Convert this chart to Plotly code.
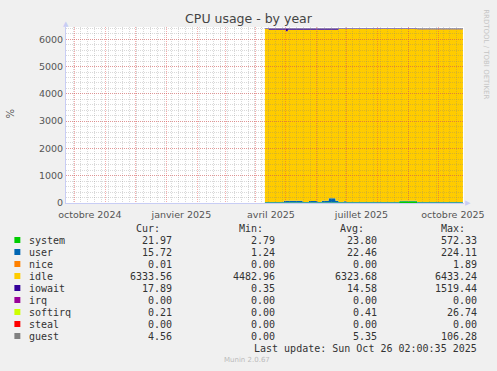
import plotly.graph_objects as go

# ---------------- data ----------------
dates = ["2025-04-10", "2025-04-14", "2025-04-29", "2025-05-01", "2025-05-03",
         "2025-05-18", "2025-05-24", "2025-06-02", "2025-06-06", "2025-06-13",
         "2025-06-20", "2025-06-23", "2025-06-28", "2025-07-01", "2025-08-23",
         "2025-09-10", "2025-10-26"]
system = [20, 20, 22, 22, 22, 22, 22, 22, 22, 22, 22, 22, 22, 22, 65, 22, 22]
user = [15, 15, 60, 60, 60, 15, 55, 15, 60, 150, 60, 15, 45, 15, 15, 15, 15]
nice = [0.01] * 17
idle = [6342, 6315, 6268, 6213, 6268, 6313, 6273, 6313, 6268, 6178,
        6268, 6340, 6310, 6340, 6297, 6330, 6330]
iowait = [18, 45, 45, 100, 45, 45, 45, 45, 45, 45, 45, 18, 18, 18, 18, 18, 18]
irq = [0] * 17
softirq = [0.4] * 17
steal = [0] * 17
guest = [5, 5, 5, 5, 5, 5, 5, 5, 5, 5, 5, 5, 5, 5, 5, 15, 15]

series_names = ["system", "user", "nice", "idle", "iowait", "irq", "softirq", "steal", "guest"]
series_colors = ["#00CC00", "#0066B3", "#FF8000", "#FFCC00", "#330099",
                 "#990099", "#CCFF00", "#FF0000", "#808080"]
series_values = [system, user, nice, idle, iowait, irq, softirq, steal, guest]

cur_vals = ["21.97", "15.72", "0.01", "6333.56", "17.89", "0.00", "0.21", "0.00", "4.56"]
min_vals = ["2.79", "1.24", "0.00", "4482.96", "0.35", "0.00", "0.00", "0.00", "0.00"]
avg_vals = ["23.80", "22.46", "0.00", "6323.68", "14.58", "0.00", "0.41", "0.00", "5.35"]
max_vals = ["572.33", "224.11", "1.89", "6433.24", "1519.44", "0.00", "26.74", "0.00", "106.28"]

month_grid = ["2024-10-01", "2024-11-01", "2024-12-01", "2025-01-01", "2025-02-01",
              "2025-03-01", "2025-04-01", "2025-05-01", "2025-06-01", "2025-07-01",
              "2025-08-01", "2025-09-01", "2025-10-01"]
label_pos = ["2024-10-16", "2025-01-16", "2025-04-16", "2025-07-16", "2025-10-16"]
label_text = ["octobre 2024", "janvier 2025", "avril 2025", "juillet 2025", "octobre 2025"]
y_ticks = [0, 1000, 2000, 3000, 4000, 5000, 6000]

# ---------------- figure ----------------
W, H = 497, 371
L, R, T, B = 66, 30, 27, 168
PW, PH = W - L - R, H - T - B
X_RANGE = ["2024-09-22 02:00", "2025-10-27 02:00"]
Y_RANGE = [0, 6450]


def px(x):
    return (x - L) / PW


def py(y):
    return (T + PH - y) / PH


fig = go.Figure()
for name, col, vals in zip(series_names, series_colors, series_values):
    fig.add_trace(go.Scatter(
        x=dates, y=vals, name=name, stackgroup="one", mode="lines",
        line=dict(width=0, shape="hv", color=col), fillcolor=col,
        showlegend=False, hoverinfo="skip"))
# empty trace on a second subplot stacked on the first: its grid is drawn over the areas
fig.add_trace(go.Scatter(x=[dates[0]], y=[None], xaxis="x2", yaxis="y2",
                         mode="lines", showlegend=False, hoverinfo="skip"))

mono = "DejaVu Sans Mono"
txtcol = "#333"
ann = []
for xr, txt in [(163, "Cur:"), (267, "Min:"), (368, "Avg:"), (470, "Max:")]:
    ann.append(dict(x=px(xr), y=py(228), xref="paper", yref="paper", text=txt,
                    showarrow=False, xanchor="right", yanchor="middle",
                    font=dict(family=mono, size=10, color=txtcol)))
# white plot background (subplots themselves are transparent)
shapes = [dict(type="rect", xref="paper", yref="paper", x0=0, x1=1, y0=0, y1=1,
               fillcolor="#FFFFFF", line=dict(width=0), layer="below")]
for i, name in enumerate(series_names):
    yy = 240 + 12 * i
    shapes.append(dict(type="rect", xref="paper", yref="paper",
                       x0=px(14), x1=px(20), y0=py(yy + 3), y1=py(yy - 3),
                       fillcolor=series_colors[i], line=dict(width=0)))
    ann.append(dict(x=px(27), y=py(yy), xref="paper", yref="paper", text=name,
                    showarrow=False, xanchor="left", yanchor="middle",
                    font=dict(family=mono, size=10, color=txtcol)))
    for xr, arr in [(175, cur_vals), (279, min_vals), (381, avg_vals), (482, max_vals)]:
        ann.append(dict(x=px(xr), y=py(yy), xref="paper", yref="paper", text=arr[i],
                        showarrow=False, xanchor="right", yanchor="middle",
                        font=dict(family=mono, size=10, color=txtcol)))
ann.append(dict(x=px(482), y=py(348), xref="paper", yref="paper",
                text="Last update: Sun Oct 26 02:00:35 2025",
                showarrow=False, xanchor="right", yanchor="middle",
                font=dict(family=mono, size=10, color=txtcol)))
ann.append(dict(x=px(248), y=py(360), xref="paper", yref="paper", text="Munin 2.0.67",
                showarrow=False, xanchor="center", yanchor="middle",
                font=dict(family="DejaVu Sans", size=7, color="#bbb")))
ann.append(dict(x=px(10), y=py(113), xref="paper", yref="paper", text="%",
                showarrow=False, textangle=-90, xanchor="center", yanchor="middle",
                font=dict(family="DejaVu Sans", size=10, color="#555")))
ann.append(dict(x=px(489), y=py(54), xref="paper", yref="paper",
                text="RRDTOOL / TOBI OETIKER",
                showarrow=False, textangle=90, xanchor="center", yanchor="middle",
                font=dict(family="DejaVu Sans", size=7, color="#c4c4c4")))
ann.append(dict(x=px(66), y=py(24), xref="paper", yref="paper", text="▲",
                showarrow=False, xanchor="center", yanchor="middle",
                font=dict(size=7, color="#c8cdf5")))
ann.append(dict(x=px(471), y=py(203), xref="paper", yref="paper", text="▶",
                showarrow=False, xanchor="center", yanchor="middle",
                font=dict(size=7, color="#c8cdf5")))

major_col = "rgba(235,70,70,0.45)"
minor_col = "rgba(130,130,130,0.3)"
dash = "1px,1px"

fig.update_layout(
    width=W, height=H,
    margin=dict(l=L, r=R, t=T, b=B, pad=0),
    paper_bgcolor="#F0F0F0", plot_bgcolor="rgba(0,0,0,0)",
    title=dict(text="CPU usage - by year", x=0.5, xref="container",
               y=1 - 19 / H, yref="container", xanchor="center", yanchor="middle",
               font=dict(family="DejaVu Sans", size=12.5, color="#444")),
    annotations=ann, shapes=shapes,
    font=dict(family="DejaVu Sans", color="#555"),
    xaxis=dict(
        type="date", range=X_RANGE, domain=[0, 1], anchor="y",
        tickvals=label_pos, ticktext=label_text, ticks="",
        ticklabelstandoff=3,
        tickfont=dict(family="DejaVu Sans", size=9.5, color="#555"),
        showgrid=False, showline=True, linecolor="#c8cdf5", linewidth=1,
        zeroline=False, layer="above traces",
    ),
    yaxis=dict(
        range=Y_RANGE, domain=[0, 1], anchor="x", tickvals=y_ticks, ticks="",
        tickfont=dict(family="DejaVu Sans", size=9.5, color="#555"),
        showgrid=False, showline=True, linecolor="#c8cdf5", linewidth=1,
        zeroline=False, layer="above traces",
    ),
    xaxis2=dict(
        type="date", range=X_RANGE, domain=[0, 1], anchor="y2",
        tickvals=month_grid, showticklabels=False, ticks="",
        showgrid=True, gridcolor=major_col, griddash=dash, gridwidth=1,
        minor=dict(dtick=7 * 86400000, tick0="2024-09-23", showgrid=True,
                   gridcolor=minor_col, griddash=dash, gridwidth=1),
        zeroline=False, showline=False,
    ),
    yaxis2=dict(
        range=Y_RANGE, domain=[0, 1], anchor="x2",
        tickvals=y_ticks, showticklabels=False, ticks="",
        showgrid=True, gridcolor=major_col, griddash=dash, gridwidth=1,
        minor=dict(dtick=200, showgrid=True,
                   gridcolor=minor_col, griddash=dash, gridwidth=1),
        zeroline=False, showline=False,
    ),
)

fig.write_html("out.html")
